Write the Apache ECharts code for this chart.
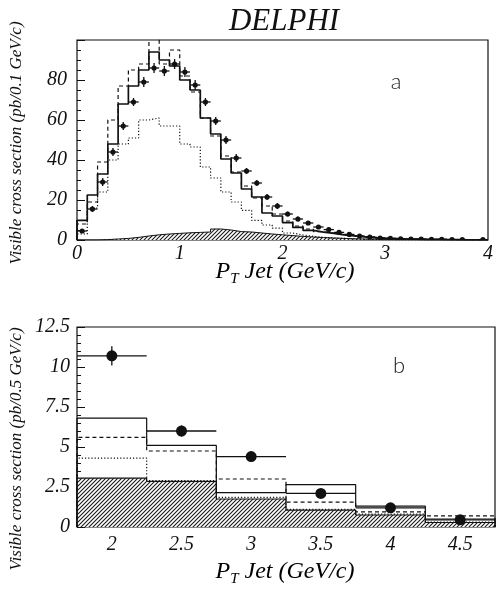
<!DOCTYPE html>
<html>
<head>
<meta charset="utf-8">
<script src="https://cdn.jsdelivr.net/npm/echarts@6/dist/echarts.min.js"></script>
<style>
  html, body { margin: 0; padding: 0; background: #fff; }
  #chart { width: 496px; height: 589px; }
</style>
</head>
<body>
<div id="chart"></div>
<script>
// ---- Panel a: jet pT spectrum, 0.1 GeV/c bins ----
const binCentersA = [0.05, 0.15, 0.25, 0.35, 0.45, 0.55, 0.65, 0.75, 0.85, 0.95,
                     1.05, 1.15, 1.25, 1.35, 1.45, 1.55, 1.65, 1.75, 1.85, 1.95,
                     2.05, 2.15, 2.25, 2.35, 2.45, 2.55, 2.65, 2.75, 2.85, 2.95,
                     3.05, 3.15, 3.25, 3.35, 3.45, 3.55, 3.65, 3.75, 3.85, 3.95];
const dataA    = [4.5, 15.5, 29, 44, 57, 69, 79, 86, 84.5, 88,
                  84, 77.5, 69, 59.5, 50, 41, 34.5, 28.5, 21.5, 17,
                  13, 10.5, 8.5, 6.5, 5.2, 3.8, 2.8, 2.0, 1.5, 1.0,
                  0.8, 0.6, 0.5, 0.4, 0.3, 0.3, 0.2, 0.2, -0.8, 0.2];
const errA     = [1, 1.5, 2, 2, 2, 2, 2.5, 2.5, 2.5, 2.5,
                  2.5, 2.5, 2, 2, 2, 2, 1.5, 1.5, 1.5, 1.5,
                  1.2, 1.2, 1, 1, 1, 0.8, 0.8, 0.7, 0.6, 0.5,
                  0.5, 0.4, 0.4, 0.4, 0.3, 0.3, 0.3, 0.3, 0.3, 0.3];
const solidA   = [9.8, 22.5, 33, 48, 68, 77, 85, 94, 90, 87,
                  80, 75, 61, 53, 40.5, 33.5, 25.5, 21.5, 13.5, 12,
                  8.7, 6.3, 4.8, 3.9, 3.3, 2.6, 2.1, 1.6, 1.2, 0.9,
                  0.7, 0.5, 0.4, 0.3, 0.3, 0.2, 0.2, 0.1, 0.1, 0.1];
const dashedA  = [8, 19, 39, 60, 77, 85, 88, 103, 88, 95,
                  82, 74, 61, 52, 42, 34, 27, 21, 17, 13,
                  9.5, 7, 5.5, 4.2, 3.4, 2.8, 2.2, 1.8, 1.4, 1.0,
                  0.8, 0.6, 0.5, 0.4, 0.3, 0.3, 0.2, 0.2, 0.1, 0.1];
const dottedA  = [3, 16, 24, 40, 48, 51, 60, 61, 57, 57,
                  48, 46.5, 36.5, 31, 24, 19, 14.8, 9.8, 7.5, 5.9,
                  3.5, 2.5, 1.8, 1.3, 1.0, 0.8, 0.6, 0.4, 0.3, 0.2,
                  0.1, 0.1, 0.1, 0, 0, 0, 0, 0, 0, 0];
const hatchA   = [0, 0, 0.2, 0.5, 0.8, 1.3, 2.0, 2.6, 3.0, 3.3,
                  3.6, 3.8, 4.0, 5.5, 5.0, 4.2, 4.0, 3.5, 3.0, 2.6,
                  2.2, 1.8, 1.5, 1.2, 1.0, 0.8, 0.6, 0.5, 0.4, 0.3,
                  0.3, 0.2, 0.2, 0.1, 0.1, 0.1, 0, 0, 0, 0];
const halfWidthA = 0.05;
const ticksXA = [0, 1, 2, 3, 4];

// ---- Panel b: high-pT tail, 0.5 GeV/c bins ----
const binCentersB = [2, 2.5, 3, 3.5, 4, 4.5];
const dataB    = [10.7, 6.0, 4.4, 2.1, 1.2, 0.45];
const errB     = [0.6, 0.35, 0.3, 0.25, 0.2, 0.15];
const solidB   = [6.8, 5.1, 2.15, 2.65, 1.3, 0.5];
const dashedB  = [5.6, 4.75, 3.0, 1.55, 0.95, 0.7];
const dottedB  = [4.3, 2.9, 1.85, 1.1, 0.8, 0.3];
const hatchB   = [3.05, 2.85, 1.75, 1.05, 0.75, 0.28];
const halfWidthB = 0.25;
const ticksXB = [2, 2.5, 3, 3.5, 4, 4.5];

// outline of a histogram: corner points of each bin top
function histPoints(centers, hw, vals) {
  const pts = [[centers[0] - hw, 0]];
  vals.forEach((v, i) => {
    pts.push([centers[i] - hw, v]);
    pts.push([centers[i] + hw, v]);
  });
  pts.push([centers[centers.length - 1] + hw, 0]);
  return pts;
}

// diagonal hatch fill for the background histogram
function hatchPattern() {
  const s = 4;
  const c = document.createElement('canvas');
  c.width = s; c.height = s;
  const g = c.getContext('2d');
  g.fillStyle = '#fff';
  g.fillRect(0, 0, s, s);
  g.strokeStyle = '#1a1a1a';
  g.lineWidth = 1.1;
  g.beginPath();
  for (let k = -1; k <= 1; k++) {
    g.moveTo(k * s - 1, s + 1);
    g.lineTo(k * s + s + 1, -1);
  }
  g.stroke();
  return c;
}
const hatchFill = { image: hatchPattern(), repeat: 'repeat' };

const serif = 'Liberation Serif';
const ink = '#111';

function histSeries(idx, pts, type, width, extra) {
  return Object.assign({
    type: 'line',
    xAxisIndex: idx, yAxisIndex: idx,
    data: pts,
    symbol: 'none',
    silent: true,
    animation: false,
    clip: true,
    lineStyle: { color: ink, width: width, type: type }
  }, extra || {});
}

function pointSeries(idx, centers, vals, errs, hw, radius) {
  return {
    type: 'custom',
    xAxisIndex: idx, yAxisIndex: idx,
    data: centers.map((x, i) => [x, vals[i], errs[i], hw]),
    clip: true,
    z: 10,
    animation: false,
    renderItem: function (params, api) {
      const x = api.value(0), y = api.value(1), e = api.value(2), h = api.value(3);
      const c = api.coord([x, y]);
      const l = api.coord([x - h, y]);
      const r = api.coord([x + h, y]);
      const t = api.coord([x, y + e]);
      const b = api.coord([x, y - e]);
      const st = { stroke: ink, lineWidth: 1.3 };
      return {
        type: 'group',
        children: [
          { type: 'line', shape: { x1: l[0], y1: l[1], x2: r[0], y2: r[1] }, style: st },
          { type: 'line', shape: { x1: t[0], y1: t[1], x2: b[0], y2: b[1] }, style: st },
          { type: 'circle', shape: { cx: c[0], cy: c[1], r: radius }, style: { fill: ink } }
        ]
      };
    }
  };
}

const tickLabel = { fontFamily: serif, fontStyle: 'italic', fontSize: 20, color: ink };

function axisTitle(y) {
  return {
    type: 'text', x: 285, y: y,
    style: {
      text: '{p|P}{s|T}{p| Jet (GeV/c)}', align: 'center', verticalAlign: 'middle',
      rich: {
        p: { fontFamily: serif, fontStyle: 'italic', fontSize: 24, color: ink },
        s: { fontFamily: serif, fontStyle: 'italic', fontSize: 15, color: ink, padding: [14, 0, 0, 0] }
      }
    }
  };
}

function yTitle(y, text) {
  return {
    type: 'text', x: 17, y: y, rotation: Math.PI / 2,
    style: { text: text, font: "italic 17px 'Liberation Serif'", fill: ink, align: 'center', verticalAlign: 'middle' }
  };
}

const option = {
  backgroundColor: '#fff',
  animation: false,
  grid: [
    { left: 77, top: 40, width: 418, height: 200, show: true, borderColor: ink, borderWidth: 1.2, backgroundColor: 'transparent' },
    { left: 77, top: 327, width: 418, height: 200, show: true, borderColor: ink, borderWidth: 1.2, backgroundColor: 'transparent' }
  ],
  xAxis: [
    {
      gridIndex: 0, type: 'value', min: 0, max: 4, interval: 1,
      axisLine: { show: false },
      axisTick: { show: false },
      splitLine: { show: false },
      axisLabel: Object.assign({ margin: 4, customValues: ticksXA }, tickLabel)
    },
    {
      gridIndex: 1, type: 'value', min: 1.75, max: 4.75,
      axisLine: { show: false },
      axisTick: { show: false },
      splitLine: { show: false },
      axisLabel: Object.assign({ margin: 8, customValues: ticksXB }, tickLabel)
    }
  ],
  yAxis: [
    {
      gridIndex: 0, type: 'value', min: 0, max: 100, interval: 20,
      axisLine: { show: false },
      axisTick: { show: true, inside: true, length: 8, lineStyle: { color: ink } },
      minorTick: { show: true, splitNumber: 4, length: 4, lineStyle: { color: ink } },
      splitLine: { show: false },
      axisLabel: Object.assign({ margin: 10, formatter: v => (v >= 100 ? '' : String(v)) }, tickLabel)
    },
    {
      gridIndex: 1, type: 'value', min: 0, max: 12.5, interval: 2.5,
      axisLine: { show: false },
      axisTick: { show: true, inside: true, length: 8, lineStyle: { color: ink } },
      minorTick: { show: true, splitNumber: 5, length: 4, lineStyle: { color: ink } },
      splitLine: { show: false },
      axisLabel: Object.assign({ margin: 7, formatter: v => String(v) }, tickLabel)
    }
  ],
  graphic: [
    { type: 'text', x: 284, y: 22,
      style: { text: 'DELPHI', font: "italic 31px 'Liberation Serif'", fill: ink, align: 'center', verticalAlign: 'middle' } },
    { type: 'text', x: 396, y: 82,
      style: { text: 'a', font: "300 22px 'Lato', 'DejaVu Sans', sans-serif", fill: '#222', align: 'center', verticalAlign: 'middle' } },
    { type: 'text', x: 399, y: 366,
      style: { text: 'b', font: "300 22px 'Lato', 'DejaVu Sans', sans-serif", fill: '#222', align: 'center', verticalAlign: 'middle' } },
    yTitle(143, 'Visible cross section (pb/0.1 GeV/c)'),
    yTitle(449, 'Visible cross section (pb/0.5 GeV/c)'),
    axisTitle(272),
    axisTitle(572)
  ],
  series: [
    histSeries(0, histPoints(binCentersA, halfWidthA, hatchA), 'solid', 1,
      { areaStyle: { color: hatchFill, opacity: 1 }, z: 1 }),
    histSeries(0, histPoints(binCentersA, halfWidthA, dottedA), [1.2, 2], 1.2, { z: 3 }),
    histSeries(0, histPoints(binCentersA, halfWidthA, dashedA), [4, 3], 1.2, { z: 3 }),
    histSeries(0, histPoints(binCentersA, halfWidthA, solidA), 'solid', 1.7, { z: 4 }),
    pointSeries(0, binCentersA, dataA, errA, halfWidthA, 2.6),

    histSeries(1, histPoints(binCentersB, halfWidthB, hatchB), 'solid', 1.2,
      { areaStyle: { color: hatchFill, opacity: 1 }, z: 1 }),
    histSeries(1, histPoints(binCentersB, halfWidthB, dottedB), [1.2, 2], 1.2, { z: 3 }),
    histSeries(1, histPoints(binCentersB, halfWidthB, dashedB), [4, 3], 1.2, { z: 3 }),
    histSeries(1, histPoints(binCentersB, halfWidthB, solidB), 'solid', 1.2, { z: 4 }),
    pointSeries(1, binCentersB, dataB, errB, halfWidthB, 5.5)
  ]
};

const chart = echarts.init(document.getElementById('chart'), null, { renderer: 'canvas' });
chart.setOption(option);
</script>
</body>
</html>
